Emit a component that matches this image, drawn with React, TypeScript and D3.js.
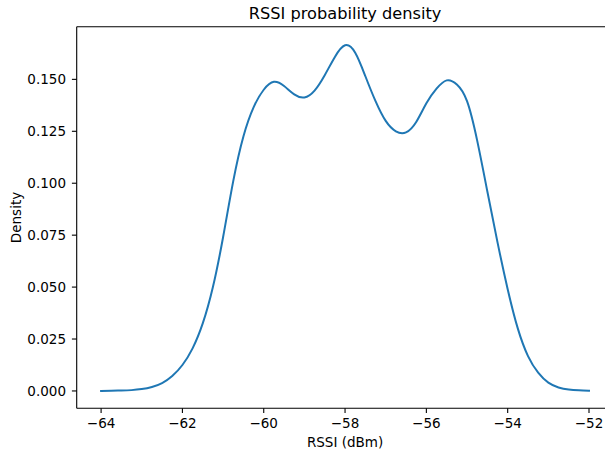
import React from "react";
import * as d3 from "d3";

const rssi = [
  -64, -63.75, -63.5, -63.25, -63, -62.75, -62.5, -62.25, -62, -61.75, -61.5, -61.25, -61,
  -60.75, -60.5, -60.25, -60, -59.75, -59.5, -59.25, -59, -58.75, -58.5, -58.25, -58,
  -57.75, -57.5, -57.25, -57, -56.75, -56.5, -56.25, -56, -55.75, -55.5, -55.25, -55,
  -54.75, -54.5, -54.25, -54, -53.75, -53.5, -53.25, -53, -52.75, -52.5, -52.25, -52,
];
const density = [
  0.0, 0.0001, 0.0002, 0.0004, 0.0009, 0.0019, 0.0038, 0.0072, 0.0125, 0.0205, 0.0325, 0.05, 0.074,
  0.101, 0.1225, 0.1365, 0.145, 0.1488, 0.1468, 0.1428, 0.1413, 0.1446, 0.152, 0.1608, 0.1664,
  0.1628, 0.1515, 0.1395, 0.13, 0.125, 0.1245, 0.1295, 0.1385, 0.1455, 0.1495, 0.1475, 0.1395,
  0.1205, 0.096, 0.0715, 0.049, 0.03, 0.0168, 0.0088, 0.004, 0.0017, 0.0007, 0.0003, 0.0001,
];
const xTicks = [-64, -62, -60, -58, -56, -54, -52];
const yTicks = [0, 0.025, 0.05, 0.075, 0.1, 0.125, 0.15];

const W = 605;
const H = 453;
const left = 76.7;
const right = 613.4;
const top = 26.7;
const bottom = 408.3;
const font = "'DejaVu Sans', sans-serif";

export default function App() {
  const x = d3.scaleLinear().domain([-64.6, -51.4]).range([left, right]);
  const y = d3.scaleLinear().domain([-0.00835, 0.17535]).range([bottom, top]);
  const pts = rssi.map((r, i) => [r, density[i]] as [number, number]);
  const line = d3
    .line<[number, number]>()
    .x((d) => x(d[0]))
    .y((d) => y(d[1]))
    .curve(d3.curveNatural);
  return (
    <svg
      width={W}
      height={H}
      style={{ position: "absolute", left: 0, top: 0, background: "#fff" }}
      fontFamily={font}
    >
      <rect x={0} y={0} width={W} height={H} fill="#fff" />
      <path d={line(pts) || ""} fill="none" stroke="#1f77b4" strokeWidth={2} strokeLinejoin="round" strokeLinecap="square" />
      <line x1={left} x2={right} y1={top} y2={top} stroke="#000" strokeWidth={1.1} />
      <line x1={left} x2={right} y1={bottom} y2={bottom} stroke="#000" strokeWidth={1.1} />
      <line x1={left} x2={left} y1={top} y2={bottom} stroke="#000" strokeWidth={1.1} />
      <line x1={right} x2={right} y1={top} y2={bottom} stroke="#000" strokeWidth={1.1} />
      {xTicks.map((t) => (
        <g key={"x" + t}>
          <line x1={x(t)} x2={x(t)} y1={bottom} y2={bottom + 4.8} stroke="#000" strokeWidth={1.1} />
          <text x={x(t)} y={428.3} textAnchor="middle" fontSize={13.5} fill="#000">
            {"\u2212" + Math.abs(t)}
          </text>
        </g>
      ))}
      {yTicks.map((t) => (
        <g key={"y" + t}>
          <line x1={left - 4.8} x2={left} y1={y(t)} y2={y(t)} stroke="#000" strokeWidth={1.1} />
          <text x={66} y={y(t)} dy="0.36em" textAnchor="end" fontSize={13.5} fill="#000">
            {t.toFixed(3)}
          </text>
        </g>
      ))}
      <text x={(left + right) / 2} y={446.7} textAnchor="middle" fontSize={13.5} fill="#000">
        RSSI (dBm)
      </text>
      <text
        transform={`translate(20.7, ${(top + bottom) / 2}) rotate(-90)`}
        textAnchor="middle"
        fontSize={13.5}
        fill="#000"
      >
        Density
      </text>
      <text x={(left + right) / 2} y={19} textAnchor="middle" fontSize={16.2} fill="#000">
        RSSI probability density
      </text>
    </svg>
  );
}
